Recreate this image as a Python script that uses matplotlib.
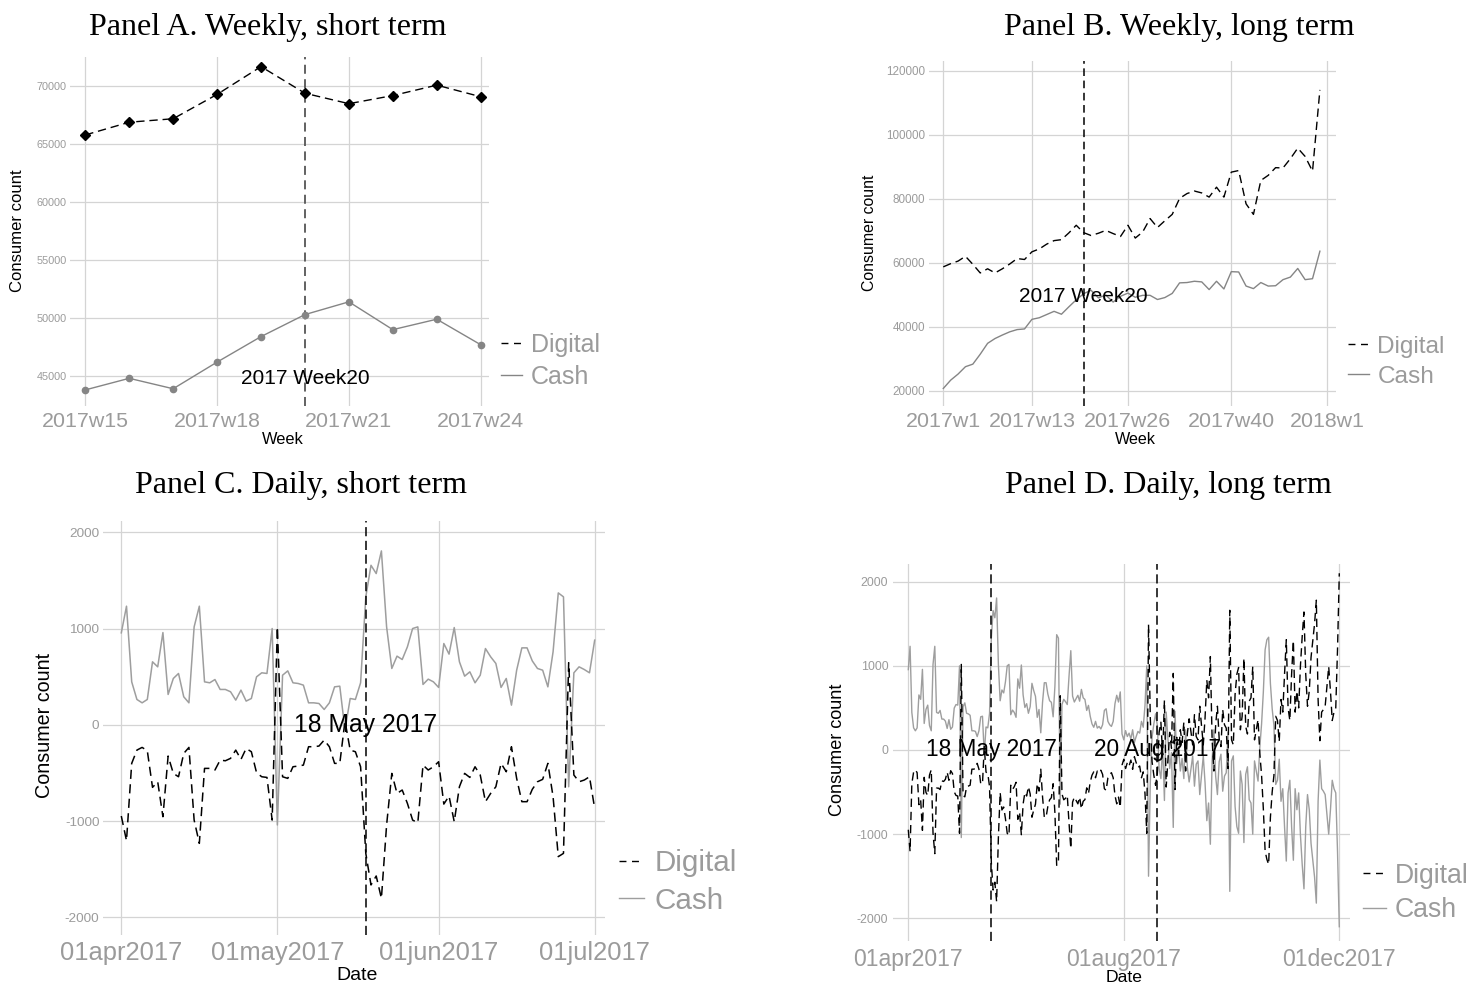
import numpy as np
import pandas as pd
import matplotlib
matplotlib.use("Agg")
import matplotlib.pyplot as plt
from matplotlib.lines import Line2D

# weekly consumer counts, 2017w1 .. 2017w52
week_idx = list(range(1, 53))
digital_week = [58700, 59700, 60500, 62000, 59500, 56800, 58100, 56800, 58100, 59600,
                61300, 61000, 63400, 64300, 65800, 66900, 67200, 69300, 71700, 69400,
                68500, 69200, 70100, 69100, 68200, 71700, 67700, 69600, 73800, 71000,
                73100, 75100, 80100, 81600, 82400, 81800, 80500, 83600, 80500, 88300,
                88800, 78400, 75100, 85700, 87300, 89700, 89600, 92500, 95800, 93200,
                88600, 114000]
cash_week = [20700, 23300, 25200, 27500, 28300, 31400, 34800, 36300, 37400, 38400,
             39100, 39300, 42300, 42800, 43800, 44800, 43900, 46200, 48400, 50300,
             51400, 49000, 49900, 47700, 49500, 50500, 49200, 49800, 49800, 48500,
             49100, 50400, 53700, 53800, 54200, 54000, 51600, 54200, 51800, 57200,
             57100, 52700, 51900, 53800, 52700, 52800, 54700, 55500, 58200, 54700,
             55000, 63600]

# daily deviations, 01apr2017 .. 01jul2017
digital_day_short = [-948, -1204, -401, -263, -235, -270, -650, -592, -955, -325,
                     -505, -540, -298, -235, -990, -1232, -453, -453, -470, -367,
                     -374, -349, -263, -360, -246, -280, -498, -540, -547, -990,
                     1017, -540, -557, -436, -429, -419, -228, -228, -221, -159,
                     -228, -401, -401, 40, -263, -280, -436, -1336, -1664, -1571,
                     -1803, -1041, -505, -713, -678, -817, -990, -1017, -419, -470,
                     -436, -384, -824, -740, -1007, -643, -505, -547, -436, -522,
                     -799, -713, -644, -401, -488, -228, -557, -799, -799, -671,
                     -592, -567, -401, -747, -1370, -1336, 644, -522, -592, -574,
                     -540, -869]
cash_day_short = [955, 1232, 446, 263, 228, 263, 654, 602, 958, 315,
                  481, 533, 291, 228, 1017, 1232, 446, 436, 470, 367,
                  367, 343, 256, 360, 246, 273, 498, 540, 533, 1000,
                  -1041, 515, 560, 436, 429, 412, 228, 228, 221, 159,
                  228, 394, 401, -55, 273, 263, 436, 1329, 1657, 1571,
                  1806, 1017, 585, 713, 678, 810, 1000, 1017, 419, 474,
                  446, 388, 844, 734, 1010, 654, 505, 550, 436, 515,
                  792, 706, 637, 388, 481, 204, 567, 799, 799, 664,
                  585, 567, 394, 758, 1370, 1329, -644, 540, 602, 574,
                  540, 879]

# daily deviations, 02jul2017 .. 01dec2017
digital_day_ext = [-1170, -620, -560, -600, -640, -560, -700, -610,
                   -590, -450, -520, -380, -300, -260, -330, -250, -270, -240,
                   -290, -460, -480, -330, -290, -270, -330, -540, -640, -560,
                   -680, -180, -110, -220, -150, -190, -120, -230, -80, -150,
                   -210, -190, -330, -260, -520, -990, 1490, 380, -140, -300,
                   -420, -280, 210, 330, -60, 590, -440, -120, 210, 20,
                   910, -470, 150, -50, 240, 90, 330, -250, 200, 370,
                   220, 60, 420, 160, 120, 520, 290, 60, 380, 830,
                   620, 1110, 120, -250, 300, 520, 130, 40, 480, 300,
                   260, -220, 1660, 120, 60, 660, 900, 980, 240, 400,
                   1090, 280, 190, 580, 620, 990, 120, 240, 360, -40,
                   -300, -700, -1200, -1300, -1360, -800, -500, -300, 400, 350,
                   100, 600, 450, 900, 1310, 500, 350, 900, 1300, 450,
                   700, 500, 1000, 1350, 1640, 900, 520, 700, 1100, 1300,
                   1500, 1780, 600, 110, 450, 480, 520, 750, 990, 700,
                   350, 450, 500, 1200, 2100]
cash_day_ext = [1180, 640, 570, 610, 650, 580, 720, 620,
                600, 470, 530, 400, 310, 270, 340, 260, 280, 250,
                300, 470, 490, 340, 300, 280, 340, 550, 650, 570,
                690, 190, 120, 230, 160, 200, 130, 240, 90, 160,
                220, 200, 340, 270, 530, 1000, -1500, -390, 150, 310,
                430, 290, -220, -340, 50, -600, 450, 130, -220, -30,
                -920, 460, -160, 40, -250, -100, -340, 240, -210, -380,
                -230, -70, -430, -170, -130, -530, -300, -70, -390, -840,
                -630, -1120, -130, 240, -310, -530, -140, -50, -490, -310,
                -270, 210, -1680, -130, -70, -670, -910, -990, -250, -410,
                -1100, -290, -200, -590, -630, -1000, -130, -250, -370, 30,
                310, 690, 1190, 1310, 1340, 790, 490, 290, -410, -360,
                -110, -610, -460, -910, -1320, -510, -360, -910, -1310, -460,
                -710, -510, -1010, -1360, -1650, -910, -530, -710, -1110, -1310,
                -1510, -1820, -610, -120, -460, -490, -530, -760, -1000, -710,
                -360, -460, -510, -1210, -2100]

BLACK = "#000000"
CASH_A = "#858585"
CASH_C = "#9e9e9e"
GRID = "#d4d4d4"
TICK = "#9b9b9b"
SANS = ["Liberation Sans", "DejaVu Sans"]
SERIF = ["Liberation Serif", "DejaVu Serif"]
DASH = (6, 3.5)

W, H = 1474, 986
fig = plt.figure(figsize=(W / 100, H / 100), dpi=100)


def frame(l, t, r, b):
    return fig.add_axes([l / W, 1 - b / H, (r - l) / W, (b - t) / H])


def fxy(x, y):
    return (x / W, 1 - y / H)


def style(ax, xsize, ysize, xpad, ypad):
    for s in ax.spines.values():
        s.set_visible(False)
    ax.tick_params(axis="both", length=0)
    ax.tick_params(axis="x", labelsize=xsize, labelcolor=TICK, pad=xpad)
    ax.tick_params(axis="y", labelsize=ysize, labelcolor=TICK, pad=ypad)
    for lab in ax.get_xticklabels() + ax.get_yticklabels():
        lab.set_family(SANS)
    ax.grid(True, color=GRID, lw=0.9)
    ax.set_axisbelow(True)


def labels(ax, xlab, xpos, ylab, ypos, xs, ys):
    ax.set_xlabel(xlab, fontsize=xs, family=SANS, va="center", ha="center")
    ax.xaxis.set_label_coords(*fxy(*xpos), transform=fig.transFigure)
    ax.set_ylabel(ylab, fontsize=ys, family=SANS, va="center", ha="center")
    ax.yaxis.set_label_coords(*fxy(*ypos), transform=fig.transFigure)


def legend(ax, x, y, size, cash_color):
    handles = [Line2D([], [], color=BLACK, lw=1.0, dashes=(5, 4)),
               Line2D([], [], color=cash_color, lw=1.0)]
    ax.legend(handles, ["Digital", "Cash"], loc="center left",
              bbox_to_anchor=fxy(x, y), bbox_transform=fig.transFigure,
              frameon=False, borderpad=0, borderaxespad=0, handlelength=0.85,
              handletextpad=0.35, labelspacing=0.32, labelcolor=TICK,
              prop={"family": SANS, "size": size})


def title(x, y, text):
    fig.text(*fxy(x, y), text, family=SERIF, fontsize=23, ha="center", va="center")


# Panel A: weekly, w15 - w24
wk_a = week_idx[14:24]
ax = frame(70, 56.7, 489.3, 406)
ax.plot(wk_a, digital_week[14:24], color=BLACK, lw=1.0, dashes=DASH,
        marker="D", ms=5.5, zorder=3)
ax.plot(wk_a, cash_week[14:24], color=CASH_A, lw=1.0, marker="o", ms=4.5, zorder=3)
ax.axvline(20, color="#555555", lw=1.3, dashes=(5, 3))
ax.text(20, 44800, "2017 Week20", family=SANS, fontsize=15, ha="center", va="center")
ax.set_xlim(14.652, 24.196)
ax.set_ylim(42411, 72554)
ax.set_xticks([15, 18, 21, 24], ["2017w15", "2017w18", "2017w21", "2017w24"])
ax.set_yticks(range(45000, 70001, 5000), [str(v) for v in range(45000, 70001, 5000)])
style(ax, 15.4, 7.8, 4.5, 2.2)
labels(ax, "Week", (283, 439), "Consumer count", (18, 231), 11.8, 12)
legend(ax, 501, 361, 18, CASH_A)
title(268, 27, "Panel A. Weekly, short term")

# Panel B: weekly, whole year
ax = frame(929, 61.3, 1336, 406)
ax.plot(week_idx, digital_week, color=BLACK, lw=1.0, dashes=DASH)
ax.plot(week_idx, cash_week, color=CASH_A, lw=1.0)
ax.axvline(20, color=BLACK, lw=1.1, dashes=(5, 3))
ax.text(20, 49400, "2017 Week20", family=SANS, fontsize=15, ha="center", va="center")
ax.set_xlim(-0.936, 54.18)
ax.set_ylim(15219, 122937)
ax.set_xticks([1, 13, 26, 40, 53], ["2017w1", "2017w13", "2017w26", "2017w40", "2018w1"])
ax.set_yticks(range(20000, 120001, 20000), [str(v) for v in range(20000, 120001, 20000)])
style(ax, 15.4, 8.4, 4.5, 2.8)
labels(ax, "Week", (1135, 439), "Consumer count", (870, 233), 11.6, 11.4)
legend(ax, 1348, 361.5, 17.6, CASH_A)
title(1179, 27, "Panel B. Weekly, long term")

start = pd.Timestamp("2017-04-01")
days_c = pd.date_range(start, periods=len(digital_day_short), freq="D")
digital_day = digital_day_short + digital_day_ext
cash_day = cash_day_short + cash_day_ext
days_d = pd.date_range(start, periods=len(digital_day), freq="D")
may18 = pd.Timestamp("2017-05-18")
aug20 = pd.Timestamp("2017-08-20")
yt = list(range(-2000, 2001, 1000))

# Panel C: daily, April - June
ax = frame(103.3, 521, 605.3, 935)
ax.plot(days_c, cash_day_short, color=CASH_C, lw=1.1)
ax.plot(days_c, digital_day_short, color=BLACK, lw=1.1, dashes=DASH)
ax.axvline(may18, color=BLACK, lw=1.1, dashes=(6, 3))
ax.text(may18, 0, "18 May 2017", family=SANS, fontsize=17.8, ha="center", va="center")
ax.set_xlim(start - pd.Timedelta(days=3.46), start + pd.Timedelta(days=93.04))
ax.set_ylim(-2184, 2117)
ax.set_xticks(pd.to_datetime(["2017-04-01", "2017-05-01", "2017-06-01", "2017-07-01"]),
              ["01apr2017", "01may2017", "01jun2017", "01jul2017"])
ax.set_yticks(yt, [str(v) for v in yt])
style(ax, 18.4, 9.7, 4.5, 2.8)
labels(ax, "Date", (357, 975), "Consumer count", (45, 725), 14, 14.2)
legend(ax, 619, 882, 21.3, CASH_C)
title(301, 486, "Panel C. Daily, short term")

# Panel D: daily, April - November
ax = frame(892.7, 564, 1350, 941)
ax.plot(days_d, cash_day, color=CASH_C, lw=1.0)
ax.plot(days_d, digital_day, color=BLACK, lw=1.0, dashes=DASH)
for d, txt in [(may18, "18 May 2017"), (aug20, "20 Aug 2017")]:
    ax.axvline(d, color=BLACK, lw=1.1, dashes=(6, 3))
    ax.text(d, 0, txt, family=SANS, fontsize=16.3, ha="center", va="center")
ax.set_xlim(start - pd.Timedelta(days=8.83), start + pd.Timedelta(days=250.06))
ax.set_ylim(-2270, 2210)
ax.set_xticks(pd.to_datetime(["2017-04-01", "2017-08-01", "2017-12-01"]),
              ["01apr2017", "01aug2017", "01dec2017"])
ax.set_yticks(yt, [str(v) for v in yt])
style(ax, 16.6, 8.9, 5, 3.2)
labels(ax, "Date", (1124, 977), "Consumer count", (838, 750), 12.6, 13.1)
legend(ax, 1363, 893, 19.2, CASH_C)
title(1168, 486, "Panel D. Daily, long term")

fig.savefig("out.png", dpi=100)
